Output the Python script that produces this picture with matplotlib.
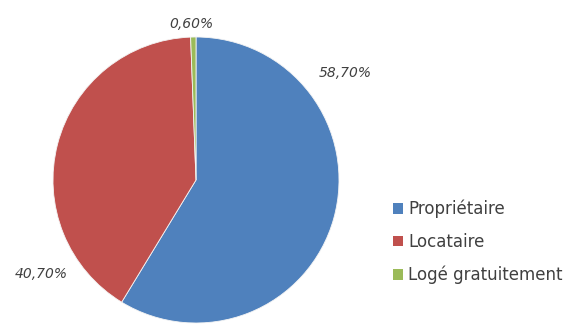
import matplotlib
matplotlib.use("Agg")
import matplotlib.pyplot as plt
from matplotlib.patches import Patch

categories = ["Propriétaire", "Locataire", "Logé gratuitement"]
shares = [58.7, 40.7, 0.6]
value_labels = ["58,70%", "40,70%", "0,60%"]
colors = ["#4F81BD", "#C0504D", "#9BBB59"]

W, H = 574, 324
fig = plt.figure(figsize=(W / 100, H / 100), dpi=100)
fig.patch.set_facecolor("white")

# pie area in pixels: centre and radius
cx, cy, R = 196, 180, 143
ax = fig.add_axes([(cx - R) / W, (H - cy - R) / H, 2 * R / W, 2 * R / H])
ax.axis("off")

wedges, _ = ax.pie(shares, colors=colors, startangle=90, counterclock=False,
                   radius=1.0, wedgeprops=dict(linewidth=0.6, edgecolor="#f4f4f4"))
ax.set_xlim(-1, 1)
ax.set_ylim(-1, 1)
ax.set_aspect("auto")

# value labels, placed beside each slice
label_pos = [((0.86, 0.75), "left"), ((-1.08, -0.66), "center"), ((-0.03, 1.09), "center")]
for ((x, y), ha), txt in zip(label_pos, value_labels):
    ax.text(x, y, txt, ha=ha, va="center", fontsize=10, style="italic",
            color="#404040", clip_on=False)

handles = [Patch(facecolor=c, edgecolor="none") for c in colors]
fig.legend(handles, categories, loc="center left",
           bbox_to_anchor=(393 / W, 1 - 242 / H),
           frameon=False, fontsize=12, labelspacing=0.88, handlelength=0.6,
           handleheight=0.6, handletextpad=0.3, labelcolor="#404040",
           borderaxespad=0, borderpad=0)

fig.savefig("out.png", dpi=100, facecolor="white")
